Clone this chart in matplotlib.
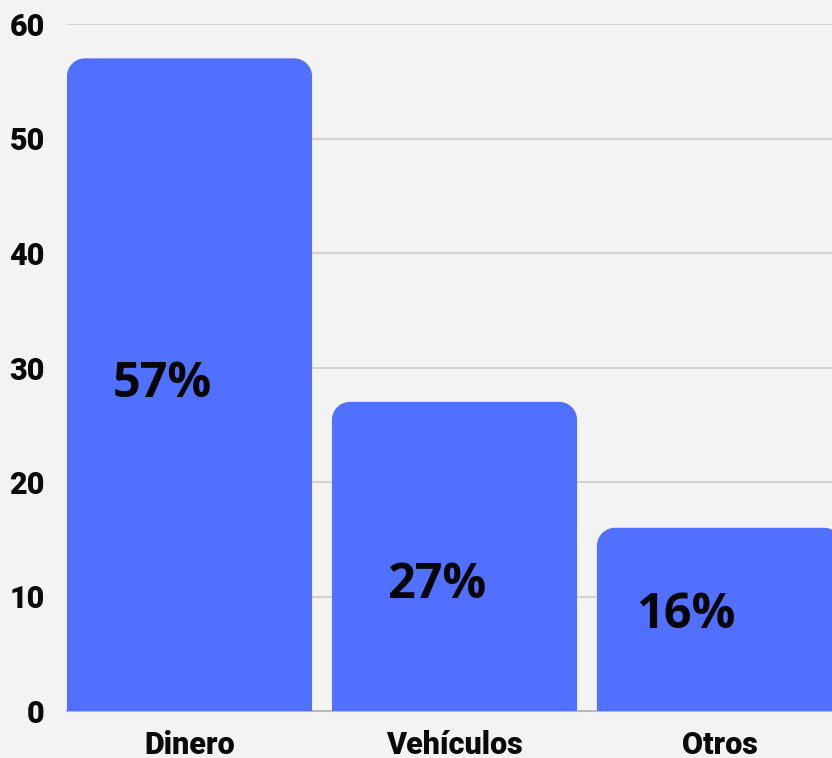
import numpy as np
import matplotlib
matplotlib.use("Agg")
import matplotlib.pyplot as plt
from matplotlib.path import Path
from matplotlib.patches import PathPatch

categories = ["Dinero", "Vehículos", "Otros"]
values = [57, 27, 16]
labels = ["57%", "27%", "16%"]
y_ticks = [0, 10, 20, 30, 40, 50, 60]

# label placement inside each bar (x offset in category units, y in data units)
label_dx = [-0.104, -0.066, -0.126]
label_y = [28.5, 11.0, 8.3]

BG = "#f3f3f3"
BAR = "#5270ff"


def rounded_top(x0, w, h, rx, ry):
    k = 0.5523
    x1 = x0 + w
    verts = [
        (x0, 0), (x0, h - ry),
        (x0, h - ry + k * ry), (x0 + rx - k * rx, h), (x0 + rx, h),
        (x1 - rx, h),
        (x1 - rx + k * rx, h), (x1, h - ry + k * ry), (x1, h - ry),
        (x1, 0), (x0, 0),
    ]
    codes = [Path.MOVETO, Path.LINETO,
             Path.CURVE4, Path.CURVE4, Path.CURVE4,
             Path.LINETO,
             Path.CURVE4, Path.CURVE4, Path.CURVE4,
             Path.LINETO, Path.CLOSEPOLY]
    return Path(verts, codes)


fig = plt.figure(figsize=(8.32, 7.58), dpi=100, facecolor=BG)
ax = fig.add_axes([67 / 832, 47 / 758, 1 - 67 / 832, 687 / 758])
ax.set_facecolor(BG)

xs = np.arange(len(categories))
bars = ax.bar(xs, values, width=0.925, color=BAR, zorder=3)
ax.set_xlim(-0.4623, 2.4245)
ax.set_ylim(0, 60)

# pixel scale for corner radius
px_x = (2.4245 + 0.4623) / (832 - 67)
px_y = 60 / 687
for b in bars:
    path = rounded_top(b.get_x(), b.get_width(), b.get_height(), 18 * px_x, 18 * px_y)
    ax.add_patch(PathPatch(path, facecolor=BAR, edgecolor="none", zorder=3))
    b.set_visible(False)

for i, lab in enumerate(labels):
    ax.text(xs[i] + label_dx[i], label_y[i], lab, ha="center", va="center",
            fontsize=35, fontweight="bold", family="Open Sans", color="#050505", zorder=4)

ax.set_yticks(y_ticks)
ax.yaxis.grid(True, color="#d2d2d2", linewidth=1.4, zorder=0)
ax.set_axisbelow(True)
for s in ["top", "right", "left"]:
    ax.spines[s].set_visible(False)
ax.spines["bottom"].set_color("#b8b8b8")
ax.spines["bottom"].set_linewidth(1.4)
ax.spines["bottom"].set_zorder(2)
ax.tick_params(length=0)
ax.tick_params(axis="y", pad=16)
ax.tick_params(axis="x", pad=14)
ax.set_xticks(xs)
ax.set_xticklabels(categories)
for t in ax.get_yticklabels() + ax.get_xticklabels():
    t.set_fontfamily("Roboto")
    t.set_fontweight("black")
    t.set_fontsize(22)
    t.set_color("#0a0a0a")

fig.savefig("out.png", dpi=100, facecolor=BG)
